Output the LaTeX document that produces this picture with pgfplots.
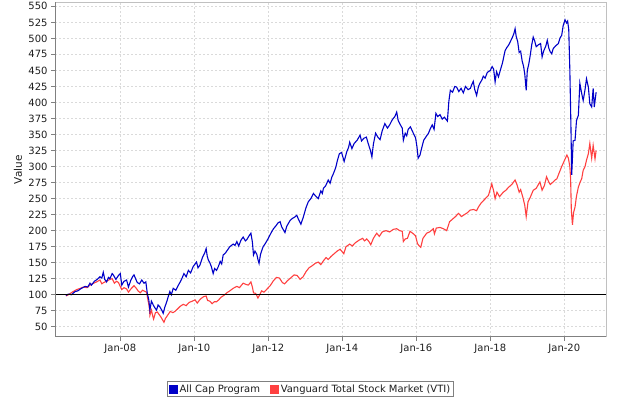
\documentclass[border=0pt]{standalone}
\usepackage{pgfplots}
\pgfplotsset{compat=1.18}
\usepackage{fontspec}
\setmainfont{DejaVu Sans}
\definecolor{serblue}{RGB}{0,0,200}
\definecolor{serred}{RGB}{255,64,64}
\definecolor{tickgray}{RGB}{30,30,30}
\definecolor{gridgray}{RGB}{218,218,218}
\definecolor{boxgray}{RGB}{192,192,192}
\definecolor{axgray}{RGB}{128,128,128}
\begin{document}
\begin{tikzpicture}
\useasboundingbox (-55bp,-63.3bp) rectangle (566bp,336.7bp);
\begin{axis}[
  scale only axis,
  width=551bp, height=334.2bp,
  xmin=2006.235, xmax=2021.127,
  ymin=34.5, ymax=556,
  xtick={2008,2010,2012,2014,2016,2018,2020},
  xticklabels={Jan-08,Jan-10,Jan-12,Jan-14,Jan-16,Jan-18,Jan-20},
  ytick={50,75,...,550},
  /pgf/number format/assume math mode=true,
  tick label style={font=\fontsize{10bp}{12bp}\selectfont, text=tickgray},
  label style={font=\fontsize{10.5bp}{12bp}\selectfont, text=tickgray},
  ylabel={Value},
  ylabel style={at={(axis description cs:-0.0672,0.5)},anchor=center},
  tick pos=left,
  tick align=outside,
  major tick length=4bp,
  tick style={axgray, line width=0.6bp},
  axis line style={boxgray, line width=0.8bp},
  grid=major,
  major grid style={gridgray, dash pattern=on 2bp off 2bp, line width=0.6bp},
  legend columns=2,
  legend style={at={(0.4637,-0.1326)}, anchor=north, draw=axgray, line width=0.8bp,
    font=\fontsize{10bp}{12bp}\selectfont, inner sep=1.2bp, text=tickgray,
    /tikz/every even column/.append style={column sep=8bp}},
  legend image code/.code={\fill (0bp,-4bp) rectangle (8bp,4bp);},
]
\addlegendimage{serblue, fill=serblue}
\addlegendentry{All Cap Program}
\addlegendimage{serred, fill=serred}
\addlegendentry{Vanguard Total Stock Market (VTI)}

\addplot[serred, line width=1.1bp, forget plot] coordinates {
(2006.53,98) (2006.60,100) (2006.70,104) (2006.82,108) (2006.92,110) (2007.00,112) (2007.10,111) (2007.18,115) (2007.28,118) (2007.36,120) (2007.45,123) (2007.50,117) (2007.55,119) (2007.63,121) (2007.72,124) (2007.78,125) (2007.84,118) (2007.90,121) (2007.95,119) (2008.04,108) (2008.10,111) (2008.17,109) (2008.22,104) (2008.30,110) (2008.37,114) (2008.42,111) (2008.48,106) (2008.54,103) (2008.60,107) (2008.67,105) (2008.71,104) (2008.74,94) (2008.78,82) (2008.80,68) (2008.84,76) (2008.88,66) (2008.90,62) (2008.95,72) (2009.00,73) (2009.05,69) (2009.10,65) (2009.14,61) (2009.18,57) (2009.22,63) (2009.28,68) (2009.35,74) (2009.42,72) (2009.48,74) (2009.55,78) (2009.62,82) (2009.70,85) (2009.78,83) (2009.86,88) (2009.95,90) (2010.02,92) (2010.08,87) (2010.16,93) (2010.25,97) (2010.32,98) (2010.36,91) (2010.42,90) (2010.48,86) (2010.54,89) (2010.60,89) (2010.66,92) (2010.72,96) (2010.80,99) (2010.88,103) (2010.96,106) (2011.05,110) (2011.15,113) (2011.22,111) (2011.32,118) (2011.40,116) (2011.46,115) (2011.53,120) (2011.57,112) (2011.60,103) (2011.66,102) (2011.72,95) (2011.76,99) (2011.82,106) (2011.88,104) (2011.95,108) (2012.05,114) (2012.14,122) (2012.22,127) (2012.30,126) (2012.38,119) (2012.44,117) (2012.52,122) (2012.60,126) (2012.70,131) (2012.78,130) (2012.86,124) (2012.94,128) (2013.02,136) (2013.10,142) (2013.18,145) (2013.27,149) (2013.35,151) (2013.42,147) (2013.49,153) (2013.56,158) (2013.62,155) (2013.70,160) (2013.78,164) (2013.86,168) (2013.94,171) (2014.04,164) (2014.10,175) (2014.20,179) (2014.27,176) (2014.35,181) (2014.45,185) (2014.55,188) (2014.60,184) (2014.66,187) (2014.72,183) (2014.77,178) (2014.84,188) (2014.93,196) (2015.00,191) (2015.08,198) (2015.18,200) (2015.28,198) (2015.38,202) (2015.47,203) (2015.55,200) (2015.62,199) (2015.65,183) (2015.70,187) (2015.76,188) (2015.83,199) (2015.90,196) (2015.98,192) (2016.03,180) (2016.08,176) (2016.12,174) (2016.18,188) (2016.28,196) (2016.36,198) (2016.46,203) (2016.49,195) (2016.54,204) (2016.64,205) (2016.73,203) (2016.82,200) (2016.90,214) (2016.98,218) (2017.06,222) (2017.14,227) (2017.22,222) (2017.30,225) (2017.38,228) (2017.45,232) (2017.55,233) (2017.63,231) (2017.68,237) (2017.75,243) (2017.85,249) (2017.95,255) (2018.04,273) (2018.09,262) (2018.13,250) (2018.18,260) (2018.25,253) (2018.35,260) (2018.42,263) (2018.50,268) (2018.58,272) (2018.67,279) (2018.72,272) (2018.78,260) (2018.82,264) (2018.88,252) (2018.93,240) (2018.97,222) (2019.02,245) (2019.08,252) (2019.16,263) (2019.24,266) (2019.34,276) (2019.40,263) (2019.46,270) (2019.52,284) (2019.58,276) (2019.62,272) (2019.68,275) (2019.75,279) (2019.80,281) (2019.86,290) (2019.93,300) (2020.00,309) (2020.07,318) (2020.11,313) (2020.15,300) (2020.17,282) (2020.19,232) (2020.22,209) (2020.25,228) (2020.29,237) (2020.33,254) (2020.38,268) (2020.43,276) (2020.47,281) (2020.51,294) (2020.56,300) (2020.60,310) (2020.65,320) (2020.69,336) (2020.72,322) (2020.74,313) (2020.78,333) (2020.83,312) (2020.86,325)
};

\addplot[serblue, line width=1.1bp, forget plot] coordinates {
(2006.53,99) (2006.60,101) (2006.68,100) (2006.78,105) (2006.85,106) (2006.95,110) (2007.05,113) (2007.12,112) (2007.18,118) (2007.22,115) (2007.30,121) (2007.38,124) (2007.45,128) (2007.50,126) (2007.54,135) (2007.58,124) (2007.63,120) (2007.68,127) (2007.72,125) (2007.78,133) (2007.81,131) (2007.88,124) (2007.95,130) (2008.00,133) (2008.04,115) (2008.10,121) (2008.17,123) (2008.22,112) (2008.28,122) (2008.33,128) (2008.37,131) (2008.42,124) (2008.46,119) (2008.52,117) (2008.58,123) (2008.64,118) (2008.69,120) (2008.73,102) (2008.77,92) (2008.80,76) (2008.84,90) (2008.89,84) (2008.93,80) (2008.98,76) (2009.02,84) (2009.07,81) (2009.12,76) (2009.16,71) (2009.20,80) (2009.26,90) (2009.30,98) (2009.34,105) (2009.38,100) (2009.43,110) (2009.50,107) (2009.57,115) (2009.62,120) (2009.67,126) (2009.72,133) (2009.78,128) (2009.84,138) (2009.90,134) (2009.97,144) (2010.06,151) (2010.10,142) (2010.15,146) (2010.22,158) (2010.28,165) (2010.32,172) (2010.35,160) (2010.38,154) (2010.42,150) (2010.46,144) (2010.51,133) (2010.55,141) (2010.60,138) (2010.65,144) (2010.70,152) (2010.74,148) (2010.78,162) (2010.84,165) (2010.90,170) (2010.96,175) (2011.05,179) (2011.10,177) (2011.15,183) (2011.20,176) (2011.26,185) (2011.32,190) (2011.38,184) (2011.42,186) (2011.48,192) (2011.53,196) (2011.57,182) (2011.60,162) (2011.64,168) (2011.69,163) (2011.72,155) (2011.75,149) (2011.79,163) (2011.83,170) (2011.86,175) (2011.92,180) (2012.00,188) (2012.07,196) (2012.14,203) (2012.20,207) (2012.26,212) (2012.32,214) (2012.36,206) (2012.42,200) (2012.45,197) (2012.50,207) (2012.55,212) (2012.59,216) (2012.65,219) (2012.71,221) (2012.77,224) (2012.82,217) (2012.88,210) (2012.94,220) (2013.02,236) (2013.08,245) (2013.15,250) (2013.22,258) (2013.28,254) (2013.35,250) (2013.42,262) (2013.46,258) (2013.49,266) (2013.55,270) (2013.62,279) (2013.67,274) (2013.72,284) (2013.76,289) (2013.82,298) (2013.87,310) (2013.92,320) (2013.98,322) (2014.05,308) (2014.12,323) (2014.17,330) (2014.20,338) (2014.26,328) (2014.32,336) (2014.40,341) (2014.48,349) (2014.52,340) (2014.58,344) (2014.65,346) (2014.70,336) (2014.76,325) (2014.80,315) (2014.84,335) (2014.90,352) (2014.96,346) (2015.02,342) (2015.08,356) (2015.15,367) (2015.22,360) (2015.28,365) (2015.35,373) (2015.42,378) (2015.47,385) (2015.51,372) (2015.56,366) (2015.62,360) (2015.65,341) (2015.70,352) (2015.74,348) (2015.78,358) (2015.84,362) (2015.92,352) (2015.98,345) (2016.02,330) (2016.05,313) (2016.10,318) (2016.15,330) (2016.20,341) (2016.28,348) (2016.33,352) (2016.37,358) (2016.43,365) (2016.48,358) (2016.53,383) (2016.58,378) (2016.64,381) (2016.70,374) (2016.76,377) (2016.84,371) (2016.88,402) (2016.92,419) (2016.98,416) (2017.04,425) (2017.09,424) (2017.15,417) (2017.21,422) (2017.27,415) (2017.33,425) (2017.40,420) (2017.46,422) (2017.50,428) (2017.54,433) (2017.58,420) (2017.63,411) (2017.68,425) (2017.72,430) (2017.78,436) (2017.81,441) (2017.86,438) (2017.92,447) (2018.00,450) (2018.05,456) (2018.09,452) (2018.13,432) (2018.17,448) (2018.22,440) (2018.28,452) (2018.33,462) (2018.40,481) (2018.45,486) (2018.50,490) (2018.55,496) (2018.60,502) (2018.64,508) (2018.67,515) (2018.70,503) (2018.74,495) (2018.78,478) (2018.82,480) (2018.86,465) (2018.90,456) (2018.93,445) (2018.97,419) (2019.00,450) (2019.04,460) (2019.08,474) (2019.12,490) (2019.16,502) (2019.20,496) (2019.24,487) (2019.30,490) (2019.36,492) (2019.40,471) (2019.44,480) (2019.50,488) (2019.54,497) (2019.58,485) (2019.62,479) (2019.66,476) (2019.70,484) (2019.76,488) (2019.84,492) (2019.88,500) (2019.93,505) (2019.97,520) (2020.02,529) (2020.06,524) (2020.09,527) (2020.12,514) (2020.15,450) (2020.18,360) (2020.20,287) (2020.24,340) (2020.29,341) (2020.33,372) (2020.38,380) (2020.42,430) (2020.47,414) (2020.51,403) (2020.56,420) (2020.60,437) (2020.65,424) (2020.69,398) (2020.74,393) (2020.78,422) (2020.81,393) (2020.86,416)
};

\addplot[black, line width=0.8bp, forget plot] coordinates {(2006.235,100) (2021.127,100)};
\draw[axgray, line width=0.8bp] (rel axis cs:0,1) -- (rel axis cs:0,0) -- (rel axis cs:1,0);
\end{axis}
\end{tikzpicture}
\end{document}
